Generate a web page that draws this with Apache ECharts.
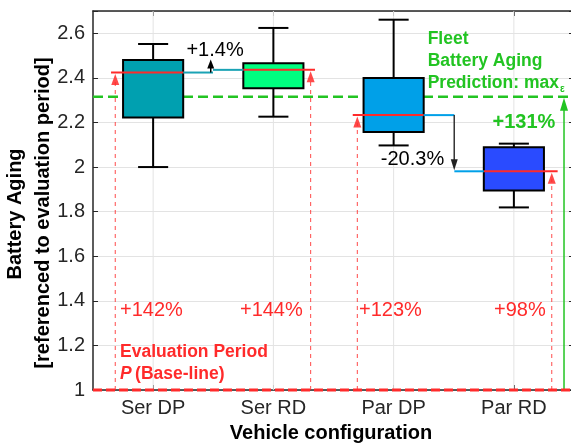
<!DOCTYPE html>
<html><head><meta charset="utf-8">
<script src="https://cdn.jsdelivr.net/npm/echarts@6/dist/echarts.min.js"></script>
<style>html,body{margin:0;padding:0;background:#fff}#c{width:571px;height:443px}</style>
</head><body><div id="c"></div>
<script>
// ---- data ----
const categories = ['Ser DP', 'Ser RD', 'Par DP', 'Par RD'];
const boxMin    = [2.000, 2.226, 2.097, 1.819];
const boxQ1     = [2.222, 2.354, 2.157, 1.895];
const boxMedian = [2.424, 2.436, 2.233, 1.981];
const boxQ3     = [2.480, 2.466, 2.400, 2.089];
const boxMax    = [2.552, 2.624, 2.661, 2.105];
const increaseLabels = ['+142%', '+144%', '+123%', '+98%'];
const changeLabels = ['+1.4%', '-20.3%'];
const fleetLabel = '+131%';
const baseline = 1;
const fleetPrediction = 2.315;
const yMin = 1, yMax = 2.7, yStep = 0.2;

// ---- styles ----
const boxColors = ['#00A0B0', '#00FF80', '#00A0E8', '#2A4BFF'];
const FONT = '"Liberation Sans", Arial, Helvetica, sans-serif';
const RED = '#FF2A2A';
const GREEN = '#22C422';
const TXT = '#262626';

const chart = echarts.init(document.getElementById('c'), null, {renderer: 'canvas'});

function tri(tip, dir, w, h, color) { // dir -1 = up, +1 = down
  return {type: 'polygon', shape: {points: [[tip[0], tip[1]], [tip[0] - w / 2, tip[1] - dir * h], [tip[0] + w / 2, tip[1] - dir * h]]},
    style: {fill: color}};
}

const medianExt = [[-0.35, 0.25], [-0.25, 0.346], [-0.34, 0.25], [-0.25, 0.364]];
const arrowOff = [-0.315, 0.31, -0.302, 0.315];
const labelLeft = [-0.275, -0.278, -0.288, -0.165];

const option = {
  animation: false,
  backgroundColor: '#fff',
  grid: {left: 93, right: -3, top: 11, bottom: 53, containLabel: false, outerBoundsMode: 'none'},
  xAxis: [
    {type: 'category', data: categories, position: 'bottom', boundaryGap: true,
      axisLine: {show: true, lineStyle: {color: TXT, width: 1.5}},
      axisTick: {show: true, inside: true, alignWithLabel: true, length: 5, lineStyle: {color: TXT}},
      axisLabel: {color: TXT, fontSize: 20, fontFamily: FONT, margin: 8},
      splitLine: {show: false}},
    {type: 'value', min: 0.5, max: 4.5, show: false, position: 'bottom'},
    {type: 'category', data: categories, position: 'top', boundaryGap: true,
      axisLine: {show: true, lineStyle: {color: TXT, width: 1.5}},
      axisTick: {show: true, inside: true, alignWithLabel: true, length: 5, lineStyle: {color: TXT}},
      axisLabel: {show: false}, splitLine: {show: false}}
  ],
  yAxis: [
    {type: 'value', min: yMin, max: yMax, interval: yStep, position: 'left',
      axisLine: {show: true, lineStyle: {color: TXT, width: 1.5}},
      axisTick: {show: true, inside: true, length: 5, lineStyle: {color: TXT}},
      axisLabel: {color: TXT, fontSize: 20, fontFamily: FONT, margin: 8,
        formatter: v => (v > yMax - 0.05 ? '' : String(Math.round(v * 10) / 10))},
      splitLine: {show: true, lineStyle: {color: '#E3E3E3', width: 1}}},
    {type: 'value', min: yMin, max: yMax, interval: yStep, position: 'right',
      axisLine: {show: true, lineStyle: {color: TXT, width: 1.5}},
      axisTick: {show: true, inside: true, length: 5, lineStyle: {color: TXT}},
      axisLabel: {show: false}, splitLine: {show: false}}
  ],
  graphic: [
    {type: 'text', x: 15, y: 214, rotation: Math.PI / 2,
      style: {text: 'Battery Aging', font: 'bold 20px ' + FONT, fill: '#000', align: 'center', verticalAlign: 'middle'}},
    {type: 'text', x: 43, y: 213, rotation: Math.PI / 2,
      style: {text: '[referenced to evaluation period]', font: 'bold 20px ' + FONT, fill: '#000', align: 'center', verticalAlign: 'middle'}},
    {type: 'text', x: 331, y: 433,
      style: {text: 'Vehicle configuration', font: 'bold 20px ' + FONT, fill: '#000', align: 'center', verticalAlign: 'middle'}}
  ],
  series: [
    // vertical grid lines at categories
    {type: 'custom', xAxisIndex: 1, yAxisIndex: 0, z: 1, silent: true,
      data: categories.map((c, i) => [i + 1]),
      renderItem: (params, api) => {
        const x = api.value(0);
        const a = api.coord([x, yMin]), b = api.coord([x, yMax]);
        return {type: 'line', shape: {x1: a[0], y1: a[1], x2: b[0], y2: b[1]}, style: {stroke: '#E3E3E3', lineWidth: 1}};
      }},
    // fleet prediction dashed line (behind boxes)
    {type: 'custom', xAxisIndex: 1, yAxisIndex: 0, z: 2, silent: true,
      data: [[fleetPrediction]],
      renderItem: (params, api) => {
        const a = api.coord([0.5, api.value(0)]), b = api.coord([4.5, api.value(0)]);
        return {type: 'line', shape: {x1: a[0], y1: a[1], x2: b[0], y2: b[1]},
          style: {stroke: GREEN, lineWidth: 2.5, lineDash: [10, 5]}};
      }},
    // boxes
    {type: 'custom', xAxisIndex: 1, yAxisIndex: 0, z: 3, silent: true,
      data: categories.map((c, i) => [i + 1, boxMin[i], boxQ1[i], boxMedian[i], boxQ3[i], boxMax[i]]),
      renderItem: (params, api) => {
        const i = params.dataIndex;
        const x = api.value(0);
        const lo = api.coord([x, api.value(1)]);
        const q1 = api.coord([x, api.value(2)]);
        const q3 = api.coord([x, api.value(4)]);
        const hi = api.coord([x, api.value(5)]);
        const hw = api.size([0.25, 0])[0];
        const cw = hw / 2;
        const cx = lo[0];
        const k = {stroke: '#000', lineWidth: 2};
        return {type: 'group', children: [
          {type: 'line', shape: {x1: cx, y1: lo[1], x2: cx, y2: q1[1]}, style: k},
          {type: 'line', shape: {x1: cx, y1: q3[1], x2: cx, y2: hi[1]}, style: k},
          {type: 'line', shape: {x1: cx - cw, y1: lo[1], x2: cx + cw, y2: lo[1]}, style: k},
          {type: 'line', shape: {x1: cx - cw, y1: hi[1], x2: cx + cw, y2: hi[1]}, style: k},
          {type: 'rect', shape: {x: cx - hw, y: q3[1], width: 2 * hw, height: q1[1] - q3[1]},
            style: {fill: boxColors[i], stroke: '#000', lineWidth: 2}}
        ]};
      }},
    // medians, red dashed arrows, percentage labels
    {type: 'custom', xAxisIndex: 1, yAxisIndex: 0, z: 4, silent: true,
      data: categories.map((c, i) => [i + 1, boxMedian[i]]),
      renderItem: (params, api) => {
        const i = params.dataIndex;
        const x = api.value(0), m = api.value(1);
        const a = api.coord([x + medianExt[i][0], m]), b = api.coord([x + medianExt[i][1], m]);
        const ax = x + arrowOff[i];
        const top = api.coord([ax, m]), bot = api.coord([ax, baseline]);
        const lab = api.coord([x + labelLeft[i], 1.358]);
        return {type: 'group', children: [
          {type: 'line', shape: {x1: bot[0], y1: bot[1], x2: top[0], y2: top[1] + 8},
            style: {stroke: RED, lineWidth: 1, lineDash: [4, 4], opacity: 0.85}},
          tri([top[0], top[1] + 1.5], -1, 8, 11, 'rgba(255,42,42,0.85)'),
          {type: 'line', shape: {x1: a[0], y1: a[1], x2: b[0], y2: b[1]}, style: {stroke: RED, lineWidth: 2}},
          {type: 'text', style: {text: increaseLabels[i], x: lab[0], y: lab[1], fill: RED,
            font: '20px ' + FONT, align: 'left', verticalAlign: 'middle'}}
        ]};
      }},
    // connectors, change arrows, annotations
    {type: 'custom', xAxisIndex: 1, yAxisIndex: 0, z: 5, silent: true,
      data: [[0]],
      renderItem: (params, api) => {
        const c = p => api.coord(p);
        const line = (p1, p2, color, w, dash) => ({type: 'line', shape: {x1: p1[0], y1: p1[1], x2: p2[0], y2: p2[1]},
          style: {stroke: color, lineWidth: w, lineDash: dash || null}});
        const text = (t, p, font, color, align) => ({type: 'text', style: {text: t, x: p[0], y: p[1], fill: color,
          font: font, align: align || 'center', verticalAlign: 'middle'}});
        const ch = [];
        // Ser connectors
        ch.push(line(c([1.25, boxMedian[0]]), c([1.498, boxMedian[0]]), '#1AA3B5', 2));
        ch.push(line(c([1.498, boxMedian[1]]), c([1.75, boxMedian[1]]), '#1AA3B5', 2));
        const up0 = c([1.479, boxMedian[0]]), up1 = c([1.479, 2.482]);
        ch.push(line(up0, [up1[0], up1[1] + 6], '#000', 1.5));
        ch.push(tri(up1, -1, 7, 9, '#000'));
        ch.push(text(changeLabels[0], c([1.515, 2.522]), '20px ' + FONT, '#000'));
        // Par connectors
        ch.push(line(c([3.25, boxMedian[2]]), c([3.505, boxMedian[2]]), '#00A0E8', 2));
        ch.push(line(c([3.505, boxMedian[3]]), c([3.75, boxMedian[3]]), '#00A0E8', 2));
        const dn0 = c([3.504, boxMedian[2]]), dn1 = c([3.504, boxMedian[3]]);
        ch.push(line(dn0, [dn1[0], dn1[1] - 8], '#333', 1.5));
        ch.push(tri([dn1[0], dn1[1] - 1], 1, 7, 11, '#222'));
        ch.push(text(changeLabels[1], c([3.157, 2.034]), '20px ' + FONT, '#000'));
        // fleet arrow
        const g0 = c([4.417, baseline]), g1 = c([4.417, fleetPrediction]);
        ch.push(line(g0, [g1[0], g1[1] + 10], GREEN, 1.5));
        ch.push(tri([g1[0], g1[1] + 1], -1, 8, 13, GREEN));
        ch.push(text(fleetLabel, c([4.084, 2.199]), 'bold 20px ' + FONT, GREEN));
        const fl = 3.283;
        ch.push(text('Fleet', c([fl, 2.574]), 'bold 17.5px ' + FONT, GREEN, 'left'));
        ch.push(text('Battery Aging', c([fl, 2.474]), 'bold 17.5px ' + FONT, GREEN, 'left'));
        const p3 = c([fl, 2.376]);
        ch.push({type: 'text', style: {text: '{a|Prediction: max}{b|\u03b5}', x: p3[0], y: p3[1], align: 'left', verticalAlign: 'middle',
          rich: {a: {font: 'bold 17.5px ' + FONT, fill: GREEN, color: GREEN, lineHeight: 22, verticalAlign: 'middle'},
                 b: {font: 'bold 10px ' + FONT, fill: GREEN, color: GREEN, lineHeight: 22, verticalAlign: 'bottom', padding: [0, 0, 0, 1]}}}});
        // evaluation period
        const e1 = c([0.725, 1.168]), e2 = c([0.725, 1.071]);
        ch.push(text('Evaluation Period', e1, 'bold 17.5px ' + FONT, RED, 'left'));
        ch.push({type: 'text', style: {text: '{i|P} {n|(Base-line)}', x: e2[0], y: e2[1], align: 'left', verticalAlign: 'middle',
          rich: {i: {font: 'bold italic 17.5px ' + FONT, fill: RED, color: RED},
                 n: {font: 'bold 17.5px ' + FONT, fill: RED, color: RED}}}});
        // baseline red dashed
        ch.push(line(c([0.5, baseline]), c([4.5, baseline]), RED, 3, [9, 4]));
        return {type: 'group', children: ch};
      }}
  ]
};
chart.setOption(option);
</script>
</body></html>
